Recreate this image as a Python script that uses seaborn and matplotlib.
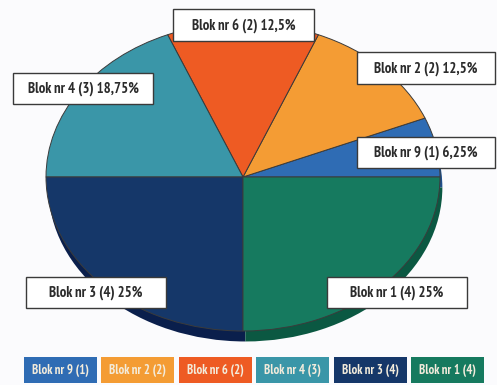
import matplotlib
matplotlib.use("Agg")
import matplotlib.pyplot as plt
from matplotlib.patches import Rectangle
from matplotlib import font_manager as fm
import seaborn as sns

# Share of buildings per block (count of buildings in brackets)
blocks = ["Blok nr 9", "Blok nr 2", "Blok nr 6", "Blok nr 4", "Blok nr 3", "Blok nr 1"]
counts = [1, 2, 2, 3, 4, 4]
face_colors = ["#2f6cb4", "#f49c34", "#ee5b23", "#3a96a8", "#153769", "#167a5f"]
rim_colors = ["#1f4f8a", "#c57a22", "#b8431a", "#2a7080", "#0a1f4c", "#0b5842"]

sns.set_theme(style="white")
plt.rcParams["font.family"] = ["DejaVu Sans"]


def narrow_bold_font():
    """Pick a condensed bold face if one is installed."""
    def is_bold(f):
        return f.weight in ("bold", 700, "700", "heavy", 800, 600, "semibold", "demibold")

    ranked = []
    for f in fm.fontManager.ttflist:
        name = f.name.lower()
        narrow = ("narrow" in name or "condensed" in name
                  or str(f.stretch) in ("condensed", "semi-condensed", "extra-condensed")
                  or "condensed" in f.fname.lower())
        if narrow and is_bold(f):
            score = 0 if "narrow" in name else (1 if "dejavu" in name else 2)
            ranked.append((score, f.fname))
    if ranked:
        ranked.sort()
        return fm.FontProperties(fname=ranked[0][1]), True
    return fm.FontProperties(family="DejaVu Sans", weight="bold"), False


label_font, is_narrow = narrow_bold_font()

W, H = 497, 385
BG = "#fbfbfd"
fig = plt.figure(figsize=(W / 100, H / 100), dpi=100, facecolor=BG)

# Elliptical pie: bounding box of the top face in pixels
cx, cy, rx, ry = 243, 177, 197, 154
pie_ax = fig.add_axes([(cx - rx) / W, 1 - (cy + ry) / H, 2 * rx / W, 2 * ry / H])
pie_ax.set_facecolor("none")

total = sum(counts)
palette = sns.color_palette(face_colors)

# darker rim underneath gives the disc some thickness
rim_wedges, _ = pie_ax.pie(counts, colors=rim_colors, startangle=0, counterclock=True,
                           center=(0.012, -0.068), radius=1.0,
                           wedgeprops=dict(linewidth=0))
top_wedges, _ = pie_ax.pie(counts, colors=palette, startangle=0, counterclock=True,
                           wedgeprops=dict(edgecolor="#3b3b3b", linewidth=0.7))
for w in list(rim_wedges) + list(top_wedges):
    w.set_clip_on(False)
pie_ax.set_aspect("auto")
pie_ax.set_xlim(-1, 1)
pie_ax.set_ylim(-1, 1)
pie_ax.axis("off")

# Overlay in pixel coordinates for callout boxes and the legend strip
ov = fig.add_axes([0, 0, 1, 1], zorder=5)
ov.set_xlim(0, W)
ov.set_ylim(H, 0)
ov.axis("off")
ov.set_facecolor("none")


def pct_text(n):
    p = 100 * n / total
    return f"{p:g}".replace(".", ",") + "%"


callouts = {
    "Blok nr 9": (357, 137, 138, 31),
    "Blok nr 2": (357, 52, 138, 32),
    "Blok nr 6": (173, 9, 141, 32),
    "Blok nr 4": (13, 73, 140, 31),
    "Blok nr 3": (26, 277, 140, 31),
    "Blok nr 1": (327, 277, 140, 31),
}
callout_size = 10.6 if is_narrow else 8.2
legend_size = 9.2 if is_narrow else 6.6
for name, n in zip(blocks, counts):
    x, y, w, h = callouts[name]
    ov.add_patch(Rectangle((x, y), w, h, facecolor="white", edgecolor="#3a3a3a", linewidth=1.0))
    ov.text(x + w / 2, y + h / 2 + 0.5, f"{name} ({n}) {pct_text(n)}", ha="center", va="center",
            fontproperties=label_font, fontsize=callout_size, color="#2b2b2b")

# legend strip
lx0, ly, lw, lh, step = 24, 357, 73, 26, 77.4
for i, (name, n, col) in enumerate(zip(blocks, counts, palette)):
    x = lx0 + i * step
    ov.add_patch(Rectangle((x, ly), lw, lh, facecolor=col, edgecolor="none"))
    ov.text(x + lw / 2, ly + lh / 2 + 0.5, f"{name} ({n})", ha="center", va="center",
            fontproperties=label_font, fontsize=legend_size, color="#f3ecdc")

fig.savefig("out.png", dpi=100, facecolor=BG)
